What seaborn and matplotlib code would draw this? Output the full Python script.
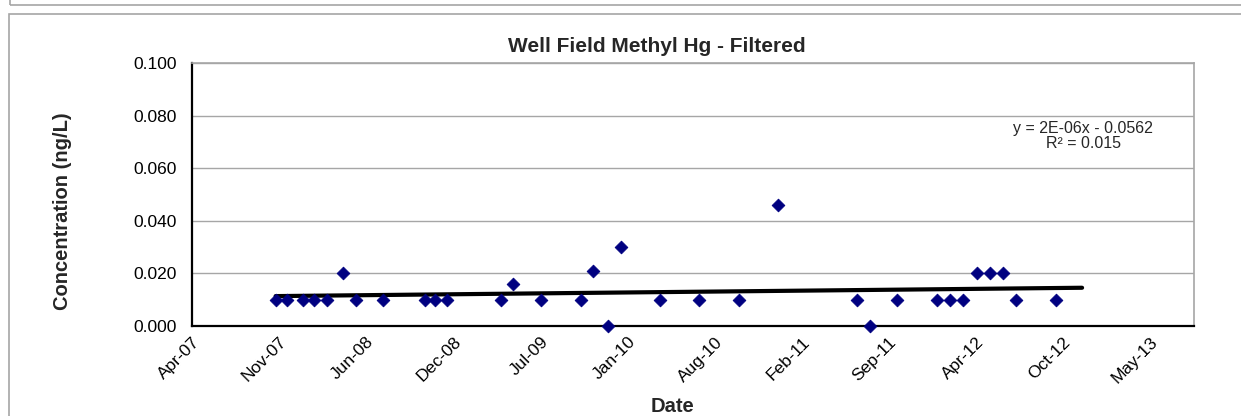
import matplotlib
matplotlib.use("Agg")
import matplotlib.pyplot as plt
import matplotlib.dates as mdates
from matplotlib.patches import Rectangle
import numpy as np
import pandas as pd
import seaborn as sns

# sample dates and filtered methyl Hg concentrations (ng/L)
sample_dates = [
    "2007-11-07", "2007-12-04", "2008-01-08", "2008-02-04", "2008-03-05",
    "2008-04-09", "2008-05-09", "2008-07-10", "2008-10-14", "2008-11-08",
    "2008-12-04", "2009-04-07", "2009-05-04", "2009-07-08", "2009-10-08",
    "2009-11-04", "2009-12-09", "2010-01-08", "2010-04-07", "2010-07-06",
    "2010-10-06", "2011-01-03", "2011-07-04", "2011-08-03", "2011-10-04",
    "2012-01-04", "2012-02-03", "2012-03-03", "2012-04-05", "2012-05-04",
    "2012-06-03", "2012-07-03", "2012-10-03",
]
methyl_hg = [
    0.010, 0.010, 0.010, 0.010, 0.010,
    0.020, 0.010, 0.010, 0.010, 0.010,
    0.010, 0.010, 0.016, 0.010, 0.010,
    0.021, 0.000, 0.030, 0.010, 0.010,
    0.010, 0.046, 0.010, 0.000, 0.010,
    0.010, 0.010, 0.010, 0.020, 0.020,
    0.020, 0.010, 0.010,
]

# axis settings (Excel style date axis: major unit 200 days)
axis_start = "2007-04-29"
axis_span_days = 2301
tick_step_days = 200
n_date_ticks = 12
y_ticks = [0.000, 0.020, 0.040, 0.060, 0.080, 0.100]
trend_forward_days = 60
trend_label = "y = 2E-06x - 0.0562\nR\u00b2 = 0.015"

df = pd.DataFrame({"date": pd.to_datetime(sample_dates), "conc": methyl_hg})

sns.set_theme(style="white")
plt.rcParams["font.family"] = ["Liberation Sans", "DejaVu Sans"]

W, H = 1241, 416
fig = plt.figure(figsize=(W / 100, H / 100), dpi=100)
fig.patch.set_facecolor("white")

# chart borders (this chart plus the bottom of the one above)
border = "#a6a6a6"
fig.patches.append(Rectangle((10 / W, 1 - 5 / H), 1.5, 2, transform=fig.transFigure,
                             fill=False, edgecolor=border, lw=1.2, zorder=0))
fig.patches.append(Rectangle((9 / W, -1), 1.5, 2 - 14 / H, transform=fig.transFigure,
                             fill=False, edgecolor=border, lw=1.2, zorder=0))

ax = fig.add_axes([192 / W, 1 - 326 / H, (1194 - 192) / W, (326 - 63) / H])

# linear trendline fitted on the data, forecast forward like Excel
xnum = mdates.date2num(df["date"])
slope, intercept = np.polyfit(xnum, df["conc"], 1)
t_end = xnum.max() + trend_forward_days
trend = pd.DataFrame({"date": mdates.num2date([xnum.min(), t_end]),
                      "conc": [slope * xnum.min() + intercept, slope * t_end + intercept]})
sns.lineplot(data=trend, x="date", y="conc", ax=ax, color="black", lw=3,
             solid_capstyle="round", zorder=2)

sns.scatterplot(data=df, x="date", y="conc", ax=ax, marker="D", s=42,
                color="#000080", edgecolor="#000080", linewidth=0.6, zorder=3,
                clip_on=False)

start = pd.Timestamp(axis_start)
ticks = [start + pd.Timedelta(days=tick_step_days * i) for i in range(n_date_ticks)]
ax.set_xlim(start, start + pd.Timedelta(days=axis_span_days))
ax.set_xticks(ticks)
ax.xaxis.set_major_formatter(mdates.DateFormatter("%b-%y"))
ax.set_ylim(0, 0.1)
ax.set_yticks(y_ticks)
ax.set_yticklabels([f"{v:.3f}" for v in y_ticks])

ax.yaxis.grid(True, color="#a6a6a6", lw=1)
ax.set_axisbelow(True)
for s in ["top", "right"]:
    ax.spines[s].set_color("#a6a6a6")
    ax.spines[s].set_linewidth(1.2)
for s in ["left", "bottom"]:
    ax.spines[s].set_color("black")
    ax.spines[s].set_linewidth(1.6)

ax.tick_params(axis="both", which="major", direction="out", length=4, width=1,
               color="#808080", labelsize=12.5, labelcolor="black")
ax.tick_params(axis="y", pad=7)
ax.tick_params(axis="x", pad=2)
plt.setp(ax.get_xticklabels(), rotation=45, ha="right", rotation_mode="anchor")

ax.set_xlabel("")
ax.set_ylabel("")

fig.text(657 / W, 1 - 47 / H, "Well Field Methyl Hg - Filtered", ha="center", va="center",
         fontsize=15, fontweight="bold")
fig.text(63 / W, 1 - 211 / H, "Concentration (ng/L)", ha="center", va="center",
         rotation=90, fontsize=14.5, fontweight="bold")
fig.text(672 / W, 1 - 407 / H, "Date", ha="center", va="center",
         fontsize=14.5, fontweight="bold")
fig.text(1083 / W, 1 - 136 / H, trend_label, ha="center", va="center",
         fontsize=11.5, linespacing=0.95)

fig.savefig("out.png", dpi=100)
